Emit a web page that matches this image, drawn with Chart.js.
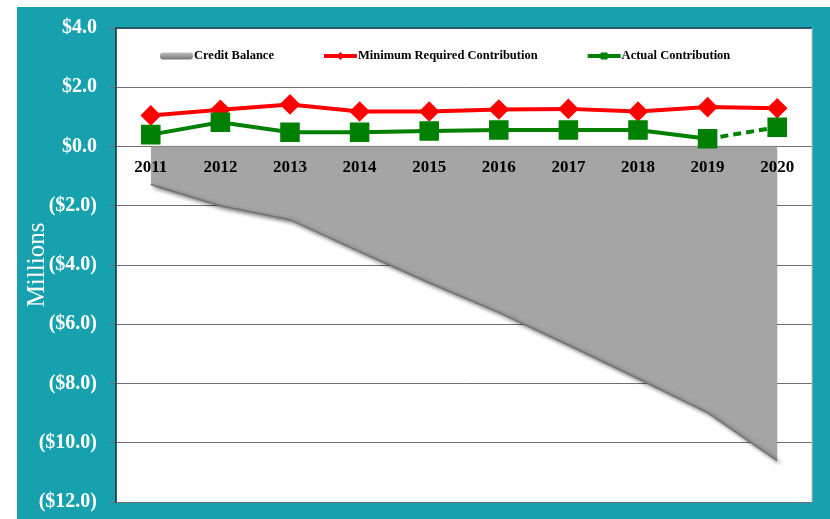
<!DOCTYPE html>
<html lang="en">
<head>
  <meta charset="UTF-8" />
  <title>Credit Balance and Contributions</title>
  <script src="https://cdn.jsdelivr.net/npm/chart.js"></script>
  <style>
    body {
      margin: 0;
      background-color: #ffffff;
    }
    canvas {
      display: block;
    }
  </style>
</head>
<body>
  <canvas id="balanceChart" width="830" height="519"></canvas>

  <script>
    // values in $ millions
    const years = ['2011', '2012', '2013', '2014', '2015', '2016', '2017', '2018', '2019', '2020'];
    const creditBalance = [-1.28, -2.0, -2.47, -3.55, -4.6, -5.6, -6.7, -7.83, -8.98, -10.6];
    const minRequired = [1.05, 1.24, 1.42, 1.18, 1.18, 1.25, 1.27, 1.18, 1.33, 1.29];
    const actualContribution = [0.40, 0.82, 0.48, 0.48, 0.52, 0.56, 0.56, 0.56, 0.26, 0.65];
    const yMin = -12;
    const yMax = 4;
    const yStep = 2;
    const projectedFrom = 8; // actual contribution is dashed after this point

    const serif = '"Liberation Serif", "Times New Roman", serif';

    function money(v) {
      const s = '$' + Math.abs(v).toFixed(1);
      return v < 0 ? '(' + s + ')' : s;
    }

    // teal panel behind everything, white plot area, dark frame on top
    const panel = {
      id: 'panel',
      beforeDraw(chart) {
        const { ctx, chartArea: a } = chart;
        ctx.save();
        ctx.fillStyle = '#17a1ae';
        ctx.fillRect(17, 7, chart.width - 17, chart.height - 7);
        ctx.fillStyle = '#ffffff';
        ctx.fillRect(a.left, a.top, a.right - a.left, a.bottom - a.top);
        ctx.restore();
      },
      afterDraw(chart) {
        const { ctx, chartArea: a } = chart;
        ctx.save();
        ctx.strokeStyle = '#1e4a54';
        ctx.lineWidth = 1.5;
        ctx.beginPath();
        ctx.moveTo(a.left, a.bottom);
        ctx.lineTo(a.left, a.top);
        ctx.lineTo(a.right, a.top);
        ctx.stroke();
        ctx.strokeStyle = '#b9c4c6';
        ctx.lineWidth = 1;
        ctx.beginPath();
        ctx.moveTo(a.right, a.top);
        ctx.lineTo(a.right, a.bottom);
        ctx.stroke();
        ctx.restore();
      }
    };

    // drop shadow under the credit balance area (drawn first)
    const areaShadow = {
      id: 'areaShadow',
      beforeDatasetsDraw(chart) {
        const ctx = chart.ctx;
        ctx.save();
        ctx.shadowColor = 'rgba(0, 0, 0, 0.55)';
        ctx.shadowBlur = 4;
        ctx.shadowOffsetX = 3;
        ctx.shadowOffsetY = 2;
      },
      afterDatasetDraw(chart, args) {
        if (args.index === 0) chart.ctx.restore();
      }
    };

    // legend sits inside the plot, near the top
    const plotLegend = {
      id: 'plotLegend',
      afterDraw(chart) {
        const { ctx, chartArea: a } = chart;
        let x = a.left + 44;
        const y = a.top + 28;
        const sample = 33;
        ctx.save();
        ctx.font = 'bold 12.5px ' + serif;
        ctx.textBaseline = 'middle';
        chart.data.datasets.forEach(ds => {
          if (ds.fill) {
            const g = ctx.createLinearGradient(0, y - 4, 0, y + 4);
            g.addColorStop(0, '#c4c4c4');
            g.addColorStop(0.5, '#9a9a9a');
            g.addColorStop(1, '#6f6f6f');
            ctx.fillStyle = g;
            ctx.beginPath();
            ctx.roundRect(x, y - 3.5, sample, 7, 3);
            ctx.fill();
          } else {
            ctx.strokeStyle = ds.borderColor;
            ctx.lineWidth = 4;
            ctx.beginPath();
            ctx.moveTo(x, y);
            ctx.lineTo(x + sample, y);
            ctx.stroke();
            ctx.fillStyle = ds.pointBackgroundColor;
            const cx = x + sample / 2;
            ctx.beginPath();
            if (ds.pointStyle === 'rectRot') {
              ctx.moveTo(cx - 4, y);
              ctx.lineTo(cx, y - 4);
              ctx.lineTo(cx + 4, y);
              ctx.lineTo(cx, y + 4);
              ctx.closePath();
            } else {
              ctx.rect(cx - 3.5, y - 3.5, 7, 7);
            }
            ctx.fill();
          }
          ctx.fillStyle = '#000000';
          ctx.fillText(ds.label, x + sample + 1, y);
          x += sample + 1 + ctx.measureText(ds.label).width + 50;
        });
        ctx.restore();
      }
    };

    const ctx = document.getElementById('balanceChart').getContext('2d');

    new Chart(ctx, {
      type: 'line',
      data: {
        labels: years,
        datasets: [
          {
            label: 'Credit Balance',
            data: creditBalance,
            fill: 'origin',
            backgroundColor: '#a5a5a5',
            borderColor: '#737373',
            borderWidth: 1.5,
            pointRadius: 0,
            tension: 0,
            order: 2
          },
          {
            label: 'Minimum Required Contribution',
            data: minRequired,
            borderColor: '#ff0000',
            backgroundColor: '#ff0000',
            pointBackgroundColor: '#ff0000',
            pointBorderColor: '#ff0000',
            pointStyle: 'rectRot',
            pointRadius: 7.5,
            borderWidth: 4,
            tension: 0,
            fill: false,
            order: 1
          },
          {
            label: 'Actual Contribution',
            data: actualContribution,
            borderColor: '#008000',
            backgroundColor: '#008000',
            pointBackgroundColor: '#008000',
            pointBorderColor: '#008000',
            pointStyle: 'rect',
            pointRadius: 11,
            borderWidth: 4,
            tension: 0,
            fill: false,
            order: 0,
            segment: {
              borderDash: c => (c.p0DataIndex >= projectedFrom ? [8, 5] : undefined)
            }
          }
        ]
      },
      options: {
        responsive: false,
        animation: false,
        layout: {
          padding: { top: 28, right: 18, bottom: 17, left: 0 }
        },
        plugins: {
          legend: { display: false },
          tooltip: { enabled: false }
        },
        scales: {
          x: {
            position: { y: 0 },
            offset: true,
            grid: { display: false, drawTicks: false },
            border: { display: false },
            ticks: {
              z: 1,
              color: '#000000',
              padding: 11,
              font: { family: serif, size: 17, weight: 'bold' }
            }
          },
          y: {
            min: yMin,
            max: yMax,
            afterFit(scale) {
              // fixed axis width; let the layout padding alone set top/bottom
              scale.width = 116;
              scale.paddingTop = 0;
              scale.paddingBottom = 0;
            },
            ticks: {
              stepSize: yStep,
              color: '#ffffff',
              padding: 13,
              font: { family: serif, size: 20, weight: 'bold' },
              callback: v => money(v)
            },
            grid: {
              color: '#6e6e6e',
              lineWidth: 1,
              tickLength: 6
            },
            border: { color: '#1e4a54', width: 1.5 },
            title: {
              display: true,
              text: 'Millions',
              color: '#ffffff',
              padding: { top: 22 },
              font: { family: serif, size: 25 }
            }
          }
        }
      },
      plugins: [panel, areaShadow, plotLegend]
    });
  </script>
</body>
</html>
